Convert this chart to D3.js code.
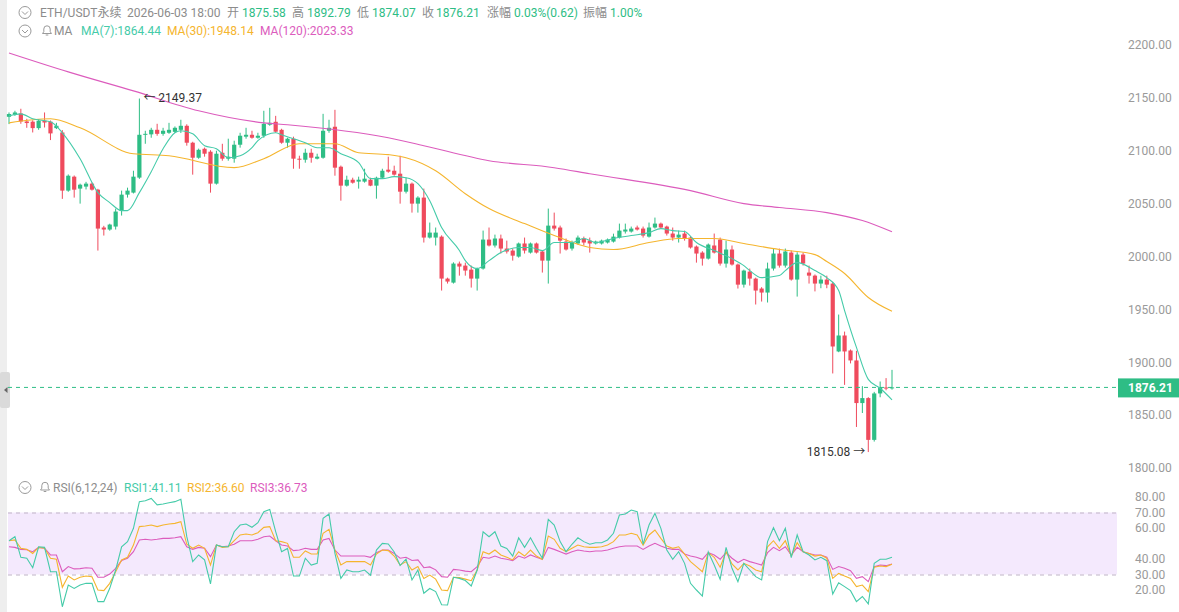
<!DOCTYPE html>
<html>
<head>
<meta charset="utf-8">
<script src="https://cdn.jsdelivr.net/npm/d3@7"></script>
<style>
  body { margin: 0; background: #fff; }
  svg { display: block; font-family: Roboto, "Noto Sans CJK SC", sans-serif; }
</style>
</head>
<body>
<script>
// OHLC, one entry per candle (oldest first)
const openP = [2132.1,2134.0,2135.2,2127.7,2127.5,2121.4,2128.4,2127.5,2121.4,2117.3,
  2062.3,2075.5,2064.2,2066.1,2068.9,2063.2,2027.4,2025.5,2028.3,2043.4,
  2058.5,2060.4,2074.6,2115.1,2115.5,2119.8,2116.0,2117.0,2117.9,2119.8,
  2123.6,2107.6,2093.4,2101.9,2099.1,2068.9,2098.1,2092.5,2092.5,2105.7,
  2113.3,2115.1,2112.3,2114.2,2124.6,2127.4,2119.8,2107.6,2111.4,2092.5,
  2091.5,2098.1,2092.5,2093.4,2118.9,2122.7,2084.9,2067.0,2072.6,2070.8,
  2070.8,2072.6,2067.0,2074.5,2082.1,2081.1,2078.3,2061.3,2068.9,2050.0,
  2055.7,2017.9,2017.9,2018.8,1979.1,1975.3,1993.3,1991.4,1987.6,1979.1,
  1988.6,2016.0,2010.4,2017.0,2007.5,2005.6,1999.9,2012.3,2003.7,2012.3,
  2004.7,1996.1,2029.2,2027.4,2014.1,2007.5,2012.3,2017.0,2015.0,2012.3,
  2012.3,2013.2,2014.1,2017.9,2023.6,2023.6,2027.4,2026.4,2018.8,2027.4,
  2031.1,2028.3,2021.7,2017.9,2021.7,2017.9,2009.4,2003.7,1998.0,2010.4,
  2016.0,1993.3,2006.6,1992.4,1973.4,1985.7,1979.1,1969.7,1965.9,1988.6,
  2002.8,1991.4,2003.7,1978.2,2001.8,1984.8,1981.9,1974.4,1978.2,1974.4,
  1910.2,1925.3,1911.1,1901.7,1861.4,1866.1,1826.6,1870.5,1876.1,1875.58];
const highP = [2136.2,2137.8,2139.7,2130.2,2128.8,2130.0,2136.2,2128.6,2126.4,2119.5,
  2077.6,2076.6,2068.9,2070.6,2070.0,2064.0,2029.0,2031.0,2045.3,2062.3,
  2065.1,2081.1,2149.37,2118.9,2121.7,2125.5,2121.7,2126.4,2123.0,2129.3,
  2125.0,2108.5,2102.0,2103.0,2100.5,2100.0,2106.6,2111.4,2109.5,2117.0,
  2121.7,2118.9,2117.0,2137.8,2140.6,2133.0,2120.8,2112.3,2113.3,2095.3,
  2101.9,2101.9,2097.2,2134.9,2129.3,2138.7,2086.0,2076.4,2074.5,2075.5,
  2083.0,2074.5,2075.5,2083.0,2094.4,2085.9,2095.3,2074.5,2070.0,2057.0,
  2064.2,2032.1,2027.4,2020.0,1980.0,1994.5,1995.2,1994.2,1991.4,1989.5,
  2024.5,2027.4,2020.7,2020.7,2015.0,2007.5,2013.2,2017.9,2013.2,2013.2,
  2005.6,2045.3,2041.5,2029.2,2017.0,2015.0,2019.8,2018.8,2017.9,2015.0,
  2016.0,2017.0,2021.6,2031.1,2031.1,2028.3,2029.2,2028.3,2032.1,2036.8,
  2032.1,2029.2,2027.4,2024.5,2024.5,2019.0,2010.4,2005.0,2012.3,2021.7,
  2017.9,2015.0,2010.4,1993.3,1987.6,1988.6,1980.0,1971.0,1994.2,2007.5,
  2007.5,2007.5,2005.6,2004.0,2003.7,1991.4,1983.0,1981.9,1981.9,1976.0,
  1945.1,1929.0,1912.1,1910.8,1877.4,1867.0,1872.0,1881.8,1885.0,1892.79];
const lowP = [2125.2,2133.0,2125.5,2121.7,2117.3,2119.8,2122.0,2110.1,2120.5,2054.5,
  2061.2,2055.7,2050.0,2063.4,2062.3,2005.6,2019.8,2024.4,2025.5,2038.7,
  2055.7,2059.6,2073.4,2106.6,2112.3,2114.2,2114.2,2116.0,2116.8,2116.8,
  2104.8,2077.4,2092.4,2094.4,2060.4,2068.0,2090.6,2090.6,2088.7,2102.9,
  2111.4,2111.4,2111.4,2112.3,2123.6,2117.0,2106.6,2102.9,2083.0,2083.0,
  2088.7,2088.7,2091.8,2092.5,2117.0,2076.4,2052.8,2066.1,2068.9,2064.2,
  2069.8,2066.5,2054.7,2073.6,2079.2,2076.4,2050.0,2059.6,2041.5,2041.5,
  2013.2,2017.0,2010.4,1967.8,1974.4,1974.4,1981.9,1981.9,1970.6,1967.8,
  1987.6,2009.5,2008.5,2002.8,2002.8,1996.1,1998.9,2002.8,2002.8,2002.8,
  1984.8,1974.4,2024.5,2002.8,2005.6,2005.6,2011.3,2010.4,2003.7,2011.3,
  2011.3,2012.3,2013.2,2017.0,2021.7,2022.6,2024.5,2017.9,2017.9,2026.4,
  2026.4,2019.8,2015.0,2013.2,2015.0,2007.5,1994.2,1991.4,1997.1,2002.8,
  1991.4,1989.5,1991.4,1969.7,1970.6,1972.5,1954.6,1957.4,1956.5,1986.7,
  1989.5,1989.5,1977.2,1962.1,1991.4,1974.4,1967.0,1970.0,1970.0,1889.4,
  1909.5,1878.6,1898.9,1838.8,1852.0,1815.08,1825.0,1866.9,1873.5,1874.07];
const closeP = [2134.7,2136.2,2127.7,2126.2,2121.4,2128.4,2126.7,2116.4,2123.6,2062.3,
  2076.4,2063.2,2067.9,2068.9,2063.2,2026.4,2025.5,2030.2,2042.5,2058.5,
  2062.3,2075.5,2115.1,2116.0,2119.8,2116.0,2118.9,2119.8,2121.7,2123.6,
  2107.6,2093.4,2100.9,2097.2,2068.9,2097.2,2092.5,2094.4,2105.7,2114.2,
  2115.1,2112.3,2114.2,2125.5,2126.4,2118.0,2107.6,2111.4,2092.5,2091.5,
  2098.1,2093.4,2094.4,2118.9,2121.7,2084.0,2067.0,2072.6,2069.8,2072.6,
  2073.6,2067.0,2074.5,2081.1,2080.2,2077.4,2061.3,2068.9,2050.0,2055.7,
  2017.9,2022.6,2022.6,1979.1,1976.3,1993.3,1990.5,1986.7,1979.1,1988.6,
  2016.0,2010.4,2017.0,2007.5,2004.7,2000.8,2012.3,2005.6,2012.3,2003.7,
  1996.1,2029.2,2026.4,2015.0,2006.6,2013.2,2017.9,2013.2,2012.3,2014.1,
  2015.0,2016.0,2018.8,2024.5,2025.5,2026.4,2025.5,2019.8,2027.4,2031.1,
  2027.4,2021.7,2017.9,2020.7,2017.0,2008.5,2002.8,1998.0,2011.3,2003.7,
  1993.3,2006.6,1992.4,1973.4,1986.7,1979.1,1967.8,1965.9,1988.6,2002.8,
  1991.4,2004.7,1978.2,2001.8,1993.3,1981.9,1974.4,1978.2,1973.4,1914.9,
  1925.3,1910.2,1901.7,1861.4,1866.1,1826.6,1870.5,1876.1,1875.58,1876.21];

// moving averages at these candle indexes
const ma7Idx = [0,2,4,7,9,12,15,17,19,20,22,24,26,28,29,31,33,35,37,39,41,42,45,46,48,50,52,54,56,59,
  61,63,65,67,69,71,73,76,77,79,81,83,86,88,90,92,95,97,99,102,105,108,110,112,114,116,119,122,124,125,
  127,130,131,133,136,138,140,141,143,145,147,149];
const ma7Val = [2133.0,2134.9,2130.2,2127.4,2117.0,2092.5,2060.4,2051.0,2043.4,2043.4,2060.4,2080.2,2101.9,2117.0,2118.9,
  2116.0,2104.8,2101.9,2093.4,2095.3,2102.9,2109.5,2117.0,2115.1,2111.4,2107.6,2102.9,2102.9,2097.2,2088.7,
  2073.6,2073.6,2075.5,2074.5,2068.9,2052.8,2027.4,2005.6,1996.1,1988.6,1996.1,2003.7,2008.5,2008.5,2005.6,
  2013.2,2013.2,2017.0,2013.2,2017.0,2019.8,2022.6,2026.4,2024.5,2023.6,2013.2,2005.6,1998.0,1991.4,1986.7,
  1980.0,1982.0,1986.7,1994.2,1986.7,1980.0,1967.8,1948.9,1914.0,1883.8,1875.4,1864.44];
const ma30Idx = [0,7,12,21,27,38,43,49,55,59,64,67,72,77,81,87,92,98,102,108,113,119,124,130,136,138,141,145,149];
const ma30Val = [2126.4,2130.2,2121.7,2097.2,2095.3,2084.0,2092.5,2106.6,2106.6,2098.1,2096.3,2093.4,2081.1,2059.4,2045.3,
  2031.1,2019.8,2008.5,2006.6,2013.2,2017.0,2017.0,2012.3,2006.6,2001.8,1995.2,1983.9,1961.2,1948.14];
const ma120Idx = [0,10,21,32,43,47,64,70,81,92,98,115,124,130,138,144,149];
const ma120Val = [2192.5,2174.6,2156.6,2137.8,2126.4,2124.6,2112.3,2104.8,2090.6,2084.0,2078.3,2062.3,2050.0,2046.3,2041.5,2034.0,2023.33];

// RSI(6,12,24), one value per candle
const rsi1 = [51.8,54.4,41.1,40.5,34.4,47.9,47.5,31.8,31.8,9.2,
  23.2,21.0,23.2,24.3,24.3,12.5,12.5,21.1,32.9,47.9,
  51.2,59.8,77.0,77.6,79.1,74.9,75.5,76.3,77.0,78.5,
  54.4,38.3,42.6,39.4,23.9,49.0,47.9,47.9,57.6,61.9,
  62.6,60.5,63.4,70.5,72.0,57.6,44.7,46.8,29.0,29.0,
  40.5,36.1,37.2,66.2,69.0,43.6,27.5,32.9,31.8,31.8,
  32.9,29.6,45.8,50.1,49.7,44.5,35.8,40.0,26.5,32.9,
  17.9,21.0,19.0,10.5,10.3,28.2,27.5,26.1,22.6,32.9,
  57.6,54.4,57.6,48.4,46.8,41.9,53.7,47.5,53.7,46.8,
  40.5,65.6,61.9,51.2,44.7,49.5,53.7,51.2,49.5,50.5,
  50.5,52.3,56.6,68.4,69.0,71.6,70.5,49.5,61.9,69.5,
  59.8,45.8,39.8,44.7,37.2,24.3,20.0,16.1,44.5,36.1,
  26.9,47.5,34.0,25.4,37.2,32.9,28.6,26.5,51.2,60.2,
  51.8,59.8,40.9,55.5,44.7,42.6,39.4,41.1,38.9,17.4,
  24.7,22.2,19.6,12.5,15.8,11.0,37.2,39.8,39.8,41.11];
const rsi2 = [51.8,52.3,46.9,46.2,43.6,47.5,46.9,40.5,39.8,21.7,
  29.0,26.5,28.2,29.0,28.6,20.0,19.6,24.3,31.8,39.4,
  41.1,49.0,60.9,61.3,61.9,60.9,61.9,62.6,63.0,64.1,
  49.5,46.9,49.0,46.9,36.1,49.0,47.5,47.9,51.8,55.5,
  56.1,55.5,57.0,60.4,60.9,51.8,51.2,50.1,41.1,41.1,
  45.2,43.2,43.2,56.6,59.1,45.8,36.1,38.3,38.3,38.3,
  38.3,36.1,43.2,45.8,45.4,41.9,36.1,38.3,32.9,35.1,
  27.5,29.6,27.0,20.0,19.6,28.2,28.0,27.0,26.0,32.9,
  44.7,43.2,45.8,42.6,41.1,39.4,44.7,41.9,45.8,41.9,
  39.8,54.8,52.7,46.9,44.7,46.9,49.0,47.9,47.5,47.5,
  47.9,49.0,51.2,55.5,55.5,56.6,55.5,49.0,55.5,58.7,
  53.3,48.4,46.9,47.9,43.2,38.3,35.1,31.8,44.1,41.1,
  34.7,44.7,36.8,32.9,37.2,35.5,32.9,31.8,47.9,51.8,
  46.9,51.8,41.9,50.5,44.7,43.6,41.9,42.6,40.5,27.5,
  30.7,29.0,27.5,22.2,23.2,18.9,34.7,35.5,35.1,36.60];
const rsi3 = [47.9,47.5,46.2,46.0,44.7,47.5,46.9,42.6,42.6,31.8,
  35.1,33.6,33.8,34.4,34.0,28.2,28.2,30.3,34.0,39.0,
  40.5,44.7,52.3,52.7,52.3,52.7,53.3,53.3,53.7,54.4,
  47.9,46.2,47.5,46.9,41.5,49.0,47.9,48.4,49.5,51.8,
  51.8,51.8,52.7,54.4,54.8,51.8,49.0,48.4,45.4,45.8,
  46.9,46.2,46.2,52.3,53.3,45.8,41.9,41.9,41.9,41.9,
  41.9,41.1,44.1,45.8,45.8,43.6,40.5,41.1,39.0,39.4,
  34.4,34.9,33.0,28.6,28.2,33.3,32.9,32.2,31.8,35.1,
  41.1,40.5,41.9,40.5,39.8,39.0,41.9,40.5,42.6,41.1,
  39.8,47.5,46.2,44.7,43.2,44.7,45.8,45.2,44.7,45.2,
  45.2,45.8,46.9,47.9,48.4,48.4,48.4,46.2,48.4,50.1,
  48.4,46.9,46.2,46.2,43.2,41.9,41.1,39.8,44.1,42.6,
  39.8,44.1,40.5,37.7,39.8,38.3,37.2,36.1,44.1,47.5,
  45.4,47.9,42.6,47.5,44.7,43.6,42.6,42.6,41.1,33.3,
  35.1,34.0,32.5,27.5,28.6,25.4,35.1,36.1,35.7,36.73];

const priceTicks = [1800, 1850, 1900, 1950, 2000, 2050, 2100, 2150, 2200];
const rsiTicks = [20, 30, 40, 60, 70, 80];

const headerItems = [
  ["ETH/USDT永续", "label"], ["2026-06-03 18:00", "label"],
  ["开", "label"], ["1875.58", "value"], ["高", "label"], ["1892.79", "value"],
  ["低", "label"], ["1874.07", "value"], ["收", "label"], ["1876.21", "value"],
  ["涨幅", "label"], ["0.03%(0.62)", "value"], ["振幅", "label"], ["1.00%", "value"]
];
const headerX = [40, 127, 227, 242, 292, 307, 357, 372, 422, 436, 487, 514, 583, 610];

const UP = "#2ebd85", DOWN = "#ef4b5d";
const C7 = "#45cba9", C30 = "#f5b52e", C120 = "#dc5cbd";
const GREY = "#8c8c8c";

const W = 1179, H = 612;
const plotL = 8, plotR = 1117;

const svg = d3.select("body").append("svg")
  .attr("width", W)
  .attr("height", H);

const n = closeP.length;
const idx = d3.range(n);
const x = d3.scaleLinear().domain([0, n - 1]).range([9, 892]);
const y = d3.scaleLinear().domain([1800, 2200]).range([468, 45]);
const yr = d3.scaleLinear().domain([20, 80]).range([590, 497]);

// left edge strip + collapse handle
svg.append("rect").attr("x", 0).attr("y", 0).attr("width", 7).attr("height", H).attr("fill", "#eeeeee");
svg.append("rect").attr("x", 0).attr("y", 372).attr("width", 10).attr("height", 36).attr("rx", 2).attr("fill", "#dadada");
svg.append("path").attr("d", "M4,390 L7.5,387 L7.5,393 Z").attr("fill", "#666");

// RSI band
svg.append("rect")
  .attr("x", plotL).attr("width", plotR - plotL)
  .attr("y", yr(70)).attr("height", yr(30) - yr(70))
  .attr("fill", "#f4e9fd");
svg.selectAll("line.rsiLevel").data([70, 30]).join("line")
  .attr("class", "rsiLevel")
  .attr("x1", plotL).attr("x2", plotR)
  .attr("y1", d => yr(d) + 0.5).attr("y2", d => yr(d) + 0.5)
  .attr("stroke", "#bfb3c7").attr("stroke-dasharray", "4,4");

const rsiLine = d3.line().x((d, i) => x(i)).y(d => yr(d));
[[rsi3, C120], [rsi2, C30], [rsi1, C7]].forEach(([data, col]) => {
  svg.append("path").datum(data)
    .attr("d", rsiLine)
    .attr("fill", "none").attr("stroke", col).attr("stroke-width", 1.1);
});

// candles
const candles = svg.append("g");
const colorOf = i => closeP[i] >= openP[i] ? UP : DOWN;
candles.selectAll("line").data(idx).join("line")
  .attr("x1", i => x(i)).attr("x2", i => x(i))
  .attr("y1", i => y(highP[i])).attr("y2", i => y(lowP[i]))
  .attr("stroke", colorOf).attr("stroke-width", 1);
candles.selectAll("rect").data(idx).join("rect")
  .attr("x", i => x(i) - 2.1)
  .attr("width", 4.2)
  .attr("y", i => y(Math.max(openP[i], closeP[i])))
  .attr("height", i => Math.max(1, Math.abs(y(openP[i]) - y(closeP[i]))))
  .attr("fill", colorOf);

// moving averages
function maLine(ids, vals, col) {
  const line = d3.line().x(d => x(d[0])).y(d => y(d[1])).curve(d3.curveMonotoneX);
  svg.append("path").datum(d3.zip(ids, vals))
    .attr("d", line)
    .attr("fill", "none").attr("stroke", col).attr("stroke-width", 1.1);
}
maLine(ma120Idx, ma120Val, C120);
maLine(ma30Idx, ma30Val, C30);
maLine(ma7Idx, ma7Val, C7);

// last price line + tag
const last = closeP[n - 1];
svg.append("line")
  .attr("x1", plotL).attr("x2", plotR)
  .attr("y1", y(last)).attr("y2", y(last))
  .attr("stroke", UP).attr("stroke-dasharray", "4,4");

// price axis
svg.append("g")
  .attr("transform", "translate(1128,0)")
  .call(d3.axisRight(y).tickValues(priceTicks).tickFormat(d3.format(".2f")).tickSize(0).tickPadding(0))
  .call(g => g.select(".domain").remove())
  .call(g => g.selectAll("text").attr("fill", "#9a9a9a").attr("font-size", 12).attr("font-family", "Roboto"));

svg.append("rect")
  .attr("x", 1118).attr("y", y(last) - 9)
  .attr("width", 61).attr("height", 19)
  .attr("fill", UP);
svg.append("text")
  .attr("x", 1128).attr("y", y(last) + 4.5)
  .attr("fill", "#fff").attr("font-size", 12).attr("font-weight", "bold")
  .text(last.toFixed(2));

// RSI axis
svg.append("g")
  .attr("transform", "translate(1135,0)")
  .call(d3.axisRight(yr).tickValues(rsiTicks).tickFormat(d3.format(".2f")).tickSize(0).tickPadding(0))
  .call(g => g.select(".domain").remove())
  .call(g => g.selectAll("text").attr("fill", "#9a9a9a").attr("font-size", 12).attr("font-family", "Roboto"));

// high / low markers
const hiI = d3.maxIndex(highP), loI = d3.minIndex(lowP);
svg.append("text")
  .attr("x", x(hiI) + 4).attr("y", y(highP[hiI]) + 3)
  .attr("fill", "#333").attr("font-size", 12)
  .text("\u2190 " + highP[hiI].toFixed(2));
svg.append("text")
  .attr("x", x(loI) - 3).attr("y", y(lowP[loI]) + 4)
  .attr("text-anchor", "end")
  .attr("fill", "#333").attr("font-size", 12)
  .text(lowP[loI].toFixed(2) + " \u2192");

// header icons
function collapseIcon(cx, cy) {
  svg.append("circle").attr("cx", cx).attr("cy", cy).attr("r", 6)
    .attr("fill", "none").attr("stroke", "#9a9a9a").attr("stroke-width", 1);
  svg.append("path").attr("d", `M${cx - 3},${cy - 1} L${cx},${cy + 2} L${cx + 3},${cy - 1}`)
    .attr("fill", "none").attr("stroke", "#9a9a9a").attr("stroke-width", 1);
}
function bellIcon(cx, cy) {
  svg.append("path")
    .attr("d", `M${cx - 4.5},${cy + 3} L${cx + 4.5},${cy + 3} L${cx + 3.2},${cy + 1.2} L${cx + 3.2},${cy - 1.5} A3.2,3.2 0 0 0 ${cx - 3.2},${cy - 1.5} L${cx - 3.2},${cy + 1.2} Z M${cx - 1.3},${cy + 4.5} L${cx + 1.3},${cy + 4.5}`)
    .attr("fill", "none").attr("stroke", "#9a9a9a").attr("stroke-width", 1);
}

collapseIcon(25, 12.5);
svg.selectAll("text.hdr").data(headerItems).join("text")
  .attr("class", "hdr")
  .attr("x", (d, i) => headerX[i]).attr("y", 16.5)
  .attr("font-size", 12)
  .attr("fill", d => d[1] === "value" ? UP : GREY)
  .text(d => d[0]);

collapseIcon(25, 31);
bellIcon(47, 30.5);
const maLegend = [["MA", GREY, 54], ["MA(7):" + ma7Val[ma7Val.length - 1].toFixed(2), C7, 81],
  ["MA(30):" + ma30Val[ma30Val.length - 1].toFixed(2), C30, 167],
  ["MA(120):" + ma120Val[ma120Val.length - 1].toFixed(2), C120, 260]];
svg.selectAll("text.ma").data(maLegend).join("text")
  .attr("class", "ma")
  .attr("x", d => d[2]).attr("y", 35)
  .attr("font-size", 12).attr("fill", d => d[1])
  .text(d => d[0]);

collapseIcon(25, 487.5);
bellIcon(45, 487);
const rsiLegend = [["RSI(6,12,24)", GREY, 53], ["RSI1:" + rsi1[n - 1].toFixed(2), C7, 124],
  ["RSI2:" + rsi2[n - 1].toFixed(2), C30, 187], ["RSI3:" + rsi3[n - 1].toFixed(2), C120, 250]];
svg.selectAll("text.rsi").data(rsiLegend).join("text")
  .attr("class", "rsi")
  .attr("x", d => d[2]).attr("y", 491.5)
  .attr("font-size", 12).attr("fill", d => d[1])
  .text(d => d[0]);
</script>
</body>
</html>
